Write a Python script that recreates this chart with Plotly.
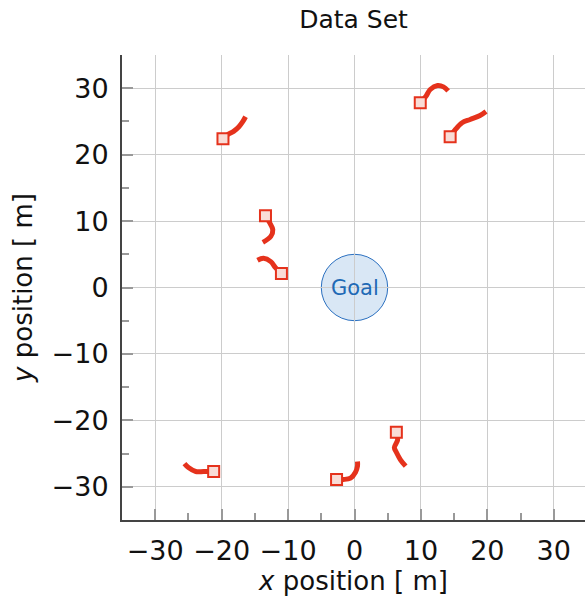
import plotly.graph_objects as go

# Agent trajectories (x, y in metres); the first point is the start position
traj_x = [
    [-19.8, -19.1, -18.2, -17.4, -16.8, -16.4],
    [9.9, 10.7, 11.4, 12.5, 13.4, 14.1],
    [14.4, 15.2, 16.2, 17.4, 18.9, 19.8],
    [-13.4, -12.8, -12.3, -12.6, -13.8],
    [-11.0, -11.9, -12.6, -13.7, -14.6],
    [-21.2, -22.7, -23.9, -25.0, -25.6],
    [-2.7, -1.7, -0.6, 0.15, 0.45, 0.45],
    [6.3, 6.5, 6.0, 6.3, 6.9, 7.7],
]
traj_y = [
    [22.4, 23.0, 23.5, 24.2, 25.0, 25.7],
    [27.8, 28.7, 29.8, 30.4, 30.2, 29.6],
    [22.7, 23.8, 24.8, 25.3, 25.9, 26.5],
    [10.8, 9.8, 8.7, 7.7, 6.8],
    [2.1, 3.0, 3.9, 4.4, 4.1],
    [-27.7, -27.7, -27.7, -27.1, -26.5],
    [-28.9, -28.9, -28.7, -27.8, -26.9, -26.2],
    [-21.8, -22.9, -24.1, -24.8, -25.9, -26.9],
]
goal_center = (0.0, 0.0)
goal_radius = 5.0
tick_vals = [-30, -20, -10, 0, 10, 20, 30]

RED = "#e5321c"
FONT = "DejaVu Sans"
INK = "#111111"

fig = go.Figure()

# goal region
fig.add_shape(
    type="circle", xref="x", yref="y",
    x0=goal_center[0] - goal_radius, x1=goal_center[0] + goal_radius,
    y0=goal_center[1] - goal_radius, y1=goal_center[1] + goal_radius,
    fillcolor="#d9e7f5", line=dict(color="#2b70c0", width=1), layer="below",
)
fig.add_annotation(x=goal_center[0], y=goal_center[1], text="Goal", showarrow=False,
                   font=dict(family=FONT, size=21, color="#1f6ab5"))

for xs, ys in zip(traj_x, traj_y):
    fig.add_trace(go.Scatter(x=xs, y=ys, mode="lines", line=dict(color=RED, width=5, shape="spline"),
                             showlegend=False, hoverinfo="skip"))
for xs, ys in zip(traj_x, traj_y):
    fig.add_trace(go.Scatter(x=[xs[0]], y=[ys[0]], mode="markers",
                             marker=dict(symbol="square", size=11, color="#f9dcd6",
                                         line=dict(color=RED, width=2)),
                             showlegend=False))

axis_common = dict(
    tickvals=tick_vals, showgrid=True, gridcolor="#cccccc", gridwidth=1,
    zeroline=False, showline=True, linecolor="#444444", linewidth=2, mirror=False,
    ticks="inside", ticklen=11, tickcolor="#999999", tickwidth=1.5,
    minor=dict(dtick=5, tick0=0, ticks="inside", ticklen=7, tickcolor="#999999", tickwidth=1.5,
               showgrid=False),
    tickfont=dict(family=FONT, size=27, color=INK),
    ticklabelstandoff=6,
)

fig.update_layout(
    width=585, height=596,
    margin=dict(l=122, r=0, t=55, b=76),
    paper_bgcolor="white", plot_bgcolor="white",
    title=dict(text="Data Set", x=0.5, xref="paper", y=0.982, yanchor="top",
               font=dict(family=FONT, size=25, color=INK)),
    xaxis=dict(range=[-35, 34.7], title=dict(text="<i>x</i> position [ m]", standoff=6,
               font=dict(family=FONT, size=26, color=INK)), **axis_common),
    yaxis=dict(range=[-35, 35], title=dict(text="<i>y</i> position [ m]", standoff=12,
               font=dict(family=FONT, size=26, color=INK)), **axis_common),
    font=dict(family=FONT),
)

fig.write_html("out.html")
